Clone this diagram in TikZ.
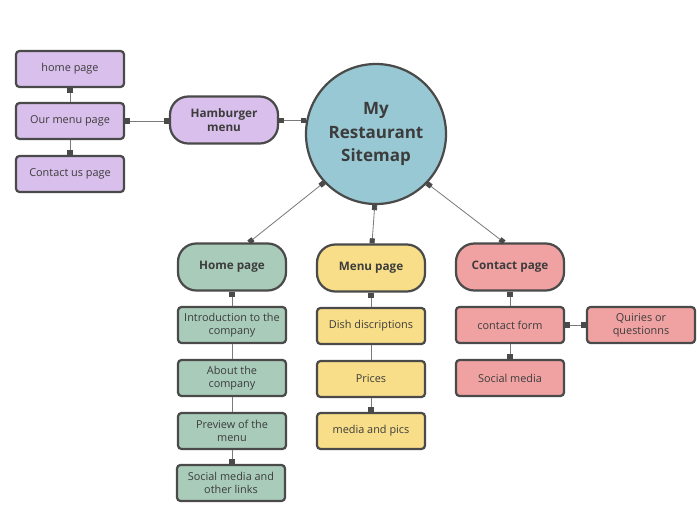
\documentclass[tikz,border=0pt]{standalone}
\usepackage{fontspec}
\setmainfont{Open Sans}
\usetikzlibrary{arrows.meta,calc}

\definecolor{lilac}{HTML}{D9BFEB}
\definecolor{sky}{HTML}{97C8D3}
\definecolor{sage}{HTML}{A9CBBA}
\definecolor{butter}{HTML}{F8DE88}
\definecolor{blush}{HTML}{F0A2A2}
\definecolor{edge}{HTML}{4A4A4A}
\definecolor{wire}{HTML}{7A7A7A}
\definecolor{ink}{HTML}{3C3C3C}

\tikzset{
  page/.style={draw=edge, line width=1.9pt, rounded corners=3pt, minimum width=3.24cm,
    minimum height=1.08cm, align=center, text=ink, inner sep=1pt,
    font=\fontsize{9.3}{11}\selectfont},
  hub/.style={page, rounded corners=0.55cm, minimum height=1.41cm,
    font=\bfseries\fontsize{10}{12}\selectfont},
  link/.style={draw=wire, line width=0.7pt},
  tipend/.style={link, -{Square[length=4.3pt,width=4.3pt,color=edge]}},
  tipboth/.style={link, {Square[length=4.3pt,width=4.3pt,color=edge]}-{Square[length=4.3pt,width=4.3pt,color=edge]}}
}

\begin{document}
\begin{tikzpicture}[x=0.03cm, y=-0.03cm]
\useasboundingbox (0,0) rectangle (697,524);

% centre
\node[circle, draw=edge, line width=1.9pt, fill=sky, minimum size=4.2cm, align=center, text=ink,
  font=\bfseries\fontsize{14.5}{20}\selectfont] (site) at (376,134) {My\\Restaurant\\Sitemap};

% hamburger menu
\node[hub, fill=lilac] (burger) at (224,120) {Hamburger\\menu};
\node[page, fill=lilac] (homelink) at (70,69) {home page};
\node[page, fill=lilac] (menulink) at (70,121) {Our menu page};
\node[page, fill=lilac] (contactlink) at (70,174) {Contact us page};

% home page
\node[hub, fill=sage] (homepg) at (232,267) {Home page};
\node[page, fill=sage] (intro) at (232,325) {Introduction to the\\company};
\node[page, fill=sage] (about) at (232,378) {About the\\company};
\node[page, fill=sage] (preview) at (232,431) {Preview of the\\menu};
\node[page, fill=sage] (links) at (231,483) {Social media and\\other links};

% menu page
\node[hub, fill=butter] (menupg) at (371,268) {Menu page};
\node[page, fill=butter] (dish) at (371,326) {Dish discriptions};
\node[page, fill=butter] (prices) at (371,379) {Prices};
\node[page, fill=butter] (media) at (371,431) {media and pics};

% contact page
\node[hub, fill=blush] (contactpg) at (510,267) {Contact page};
\node[page, fill=blush] (form) at (510,325) {contact form};
\node[page, fill=blush] (social) at (510,378) {Social media};
\node[page, fill=blush] (queries) at (641,325) {Quiries or\\questionns};

\draw[tipboth] (site.169) -- (burger.east |- site.169);
\draw[tipboth] (burger.west |- menulink.east) -- (menulink.east);
\draw[tipend] (menulink.north) -- (homelink.south);
\draw[tipend] (menulink.south) -- (contactlink.north);

\draw[tipboth] (site.223) -- ($(homepg.north)+(17,0)$);
\draw[tipboth] (site.269) -- ($(menupg.north)+(1,0)$);
\draw[tipboth] (site.316) -- ($(contactpg.north)+(-6,0)$);

\draw[tipend] (intro.north) -- (homepg.south);
\draw[link] (intro) -- (about);
\draw[link] (about) -- (preview);
\draw[tipend] (preview.south) -- (links.north -| preview.south);

\draw[tipend] (dish.north) -- (menupg.south);
\draw[link] (dish) -- (prices);
\draw[tipend] (prices.south) -- (media.north);

\draw[tipend] (form.north) -- (contactpg.south);
\draw[tipend] (form.south) -- (social.north);
\draw[tipboth] (form.east) -- (queries.west);
\end{tikzpicture}
\end{document}
